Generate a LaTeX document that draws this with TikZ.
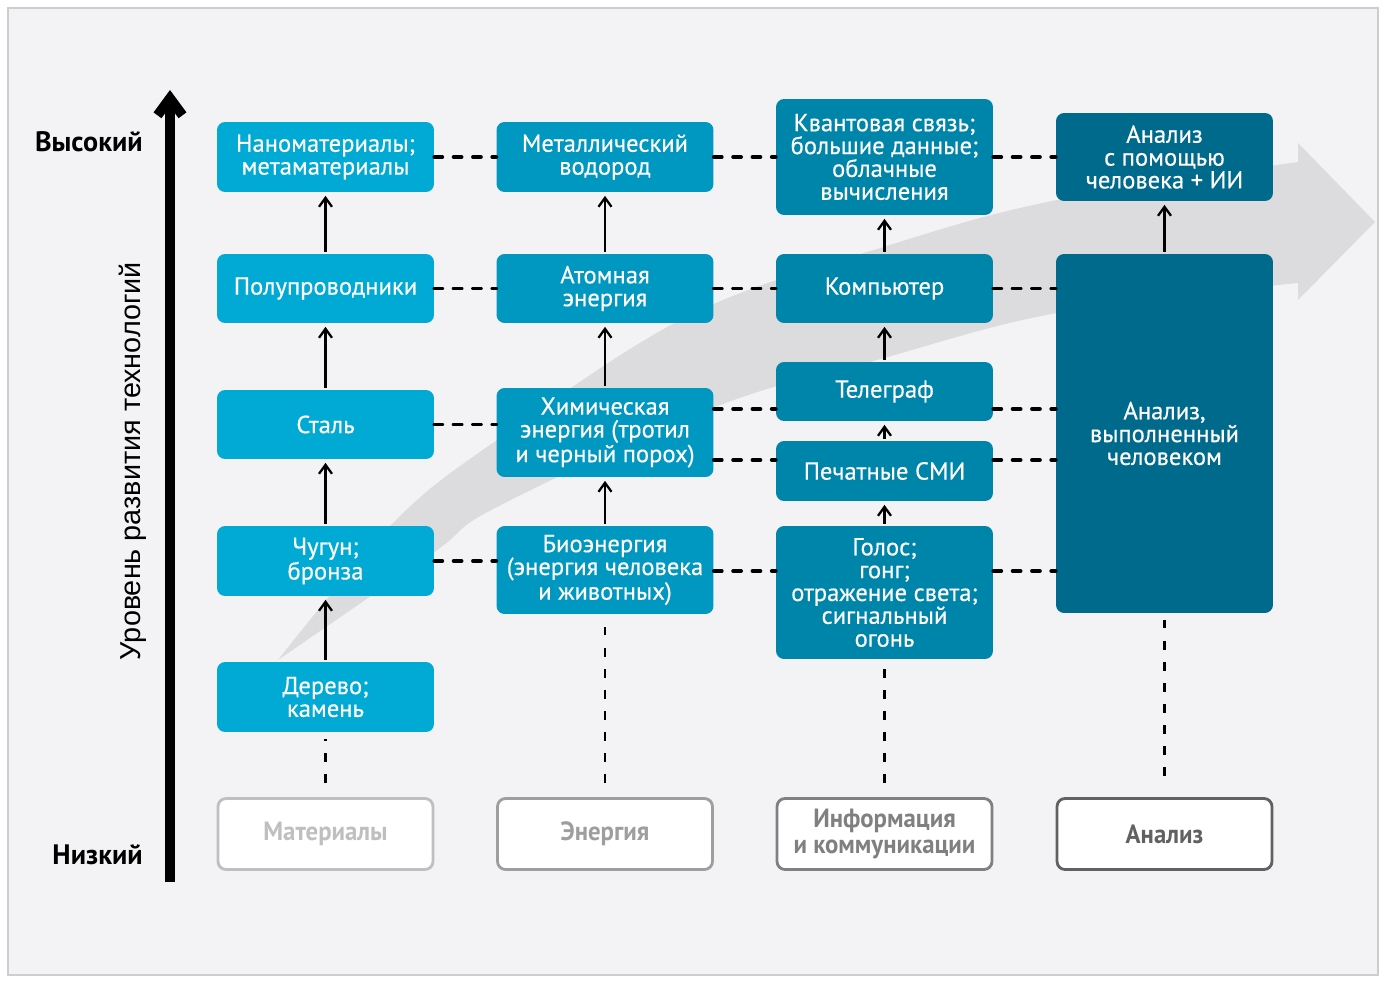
\documentclass[tikz,border=0pt]{standalone}
\usepackage{fontspec}
\setmainfont{PT Sans}
\newfontfamily\boxfont[FakeBold=0.4]{PT Sans}
\newfontfamily\axisfont{Liberation Sans}
\newfontfamily\narrowfont[FakeStretch=0.94]{PT Sans}
\usetikzlibrary{arrows.meta, calc}

\definecolor{bggray}{RGB}{243,243,246}
\definecolor{framegray}{RGB}{205,205,208}
\definecolor{bandgray}{RGB}{220,220,222}
\definecolor{matblue}{RGB}{0,170,212}
\definecolor{enblue}{RGB}{0,151,192}
\definecolor{infblue}{RGB}{0,133,170}
\definecolor{anblue}{RGB}{0,106,141}

\begin{document}
\begin{tikzpicture}[x=0.02cm, y=-0.02cm,
    techbox/.style={rounded corners=0.16cm, text=white, align=center, inner sep=0pt,
        minimum width=4.34cm, font=\boxfont\fontsize{14}{13}\selectfont},
    basebox/.style={rounded corners=0.16cm, fill=white, draw=#1, text=#1, line width=1.6pt,
        align=center, inner sep=0pt, minimum width=4.3cm, minimum height=1.42cm,
        font=\narrowfont\bfseries\fontsize{15}{15}\selectfont},
    levellabel/.style={font=\bfseries\fontsize{16}{16}\selectfont, anchor=east, inner sep=0pt},
    dashlink/.style={line width=2.2pt, dash pattern=on 4.5pt off 6.5pt, line cap=round},
    rootline/.style={line width=1.5pt, dash pattern=on 5pt off 7pt},
    uparrow/.style={line width=1.3pt, -{Straight Barb[length=0.18cm, width=0.26cm]},
        shorten >=2pt, shorten <=1pt}]

    \useasboundingbox (0,0) rectangle (1386,983);

    % Draw the background panel
    \fill[bggray] (8,8) rectangle (1378,975);
    \draw[framegray, line width=1pt] (8,8) rectangle (1378,975);

    % Draw the wide gray arrow of progress
    \fill[bandgray] plot[smooth, tension=0.6] coordinates {(278,660) (393,523) (497,440) (690,315) (890,245) (1057,200) (1298,162)}
        -- (1298,143) -- (1375,222) -- (1298,300) -- (1298,283)
        -- plot[smooth, tension=0.6] coordinates {(1298,283) (1057,313) (877,360) (715,407) (497,507) (433,553) (278,660)} -- cycle;

    % Vertical axis
    \draw[line width=5.6pt, -{Straight Barb[length=0.34cm, width=0.5cm]}] (170,882) -- (170,90);
    \node[levellabel] (high) at (143,142) {Высокий};
    \node[levellabel] (low) at (143,855) {Низкий};
    \node[rotate=90, font=\axisfont\fontsize{16.4}{16}\selectfont] (axislabel) at (133,461) {Уровень развития технологий};

    % Materials column
    \node[techbox, fill=matblue, minimum height=1.4cm] (nano) at (325.5,157) {Наноматериалы;\\метаматериалы};
    \node[techbox, fill=matblue, minimum height=1.38cm] (semi) at (325.5,288.5) {Полупроводники};
    \node[techbox, fill=matblue, minimum height=1.38cm] (steel) at (325.5,424.5) {Сталь};
    \node[techbox, fill=matblue, minimum height=1.4cm] (iron) at (325.5,561) {Чугун;\\бронза};
    \node[techbox, fill=matblue, minimum height=1.4cm] (wood) at (325.5,697) {Дерево;\\камень};

    % Energy column
    \node[techbox, fill=enblue, minimum height=1.4cm] (hydro) at (605,157) {Металлический\\водород};
    \node[techbox, fill=enblue, minimum height=1.38cm] (atom) at (605,288.5) {Атомная\\энергия};
    \node[techbox, fill=enblue, minimum height=1.78cm] (chem) at (605,432.5) {Химическая\\энергия (тротил\\и черный порох)};
    \node[techbox, fill=enblue, minimum height=1.76cm] (bio) at (605,570) {Биоэнергия\\(энергия человека\\и животных)};

    % Information column
    \node[techbox, fill=infblue, minimum height=2.32cm] (quant) at (884.5,157) {Квантовая связь;\\большие данные;\\облачные\\вычисления};
    \node[techbox, fill=infblue, minimum height=1.38cm] (comp) at (884.5,288.5) {Компьютер};
    \node[techbox, fill=infblue, minimum height=1.18cm] (tele) at (884.5,391.5) {Телеграф};
    \node[techbox, fill=infblue, minimum height=1.2cm] (press) at (884.5,471) {Печатные СМИ};
    \node[techbox, fill=infblue, minimum height=2.66cm] (voice) at (884.5,592.5) {Голос;\\гонг;\\отражение света;\\сигнальный\\огонь};

    % Analysis column
    \node[techbox, fill=anblue, minimum height=1.76cm] (ai) at (1164.5,157) {Анализ\\с помощью\\человека + ИИ};
    \node[techbox, fill=anblue, minimum height=7.18cm] (human) at (1164.5,433.5) {Анализ,\\выполненный\\человеком};

    % Column titles
    \node[basebox=black!25] (mat) at (325.5,834) {Материалы};
    \node[basebox=black!38] (en) at (605,834) {Энергия};
    \node[basebox=black!50] (inf) at (884.5,834) {Информация\\и коммуникации};
    \node[basebox=black!62] (an) at (1164.5,834) {Анализ};

    % Arrows inside the columns
    \draw[uparrow] (wood) -- (iron);
    \draw[uparrow] (iron) -- (steel);
    \draw[uparrow] (steel) -- (semi);
    \draw[uparrow] (semi) -- (nano);
    \draw[uparrow] (bio) -- (chem);
    \draw[uparrow] (chem) -- (atom);
    \draw[uparrow] (atom) -- (hydro);
    \draw[uparrow] (voice) -- (press);
    \draw[uparrow] (press) -- (tele);
    \draw[uparrow] (tele) -- (comp);
    \draw[uparrow] (comp) -- (quant);
    \draw[uparrow] (human) -- (ai);

    % Dotted roots down to the titles
    \draw[rootline, shorten <=8pt, shorten >=4pt] (mat) -- (wood);
    \draw[rootline, shorten <=8pt, shorten >=6pt] (en) -- (bio);
    \draw[rootline, shorten <=8pt, shorten >=4pt] (inf) -- (voice);
    \draw[rootline, shorten <=12pt, shorten >=4pt] (an) -- (human);

    % Dashed links between columns
    \draw[dashlink] (nano) -- (hydro);
    \draw[dashlink] (hydro) -- (quant);
    \draw[dashlink] (quant) -- (ai);
    \draw[dashlink] (semi) -- (atom);
    \draw[dashlink] (atom) -- (comp);
    \draw[dashlink] (comp.east) -- (comp.east -| human.west);
    \draw[dashlink] (steel.east) -- (steel.east -| chem.west);
    \draw[dashlink] (chem.east |- 0,409) -- (tele.west |- 0,409);
    \draw[dashlink] (tele.east |- 0,409) -- (human.west |- 0,409);
    \draw[dashlink] (chem.east |- 0,460) -- (press.west |- 0,460);
    \draw[dashlink] (press.east |- 0,460) -- (human.west |- 0,460);
    \draw[dashlink] (iron.east) -- (iron.east -| bio.west);
    \draw[dashlink] (bio.east |- 0,571) -- (voice.west |- 0,571);
    \draw[dashlink] (voice.east |- 0,571) -- (human.west |- 0,571);

\end{tikzpicture}
\end{document}
